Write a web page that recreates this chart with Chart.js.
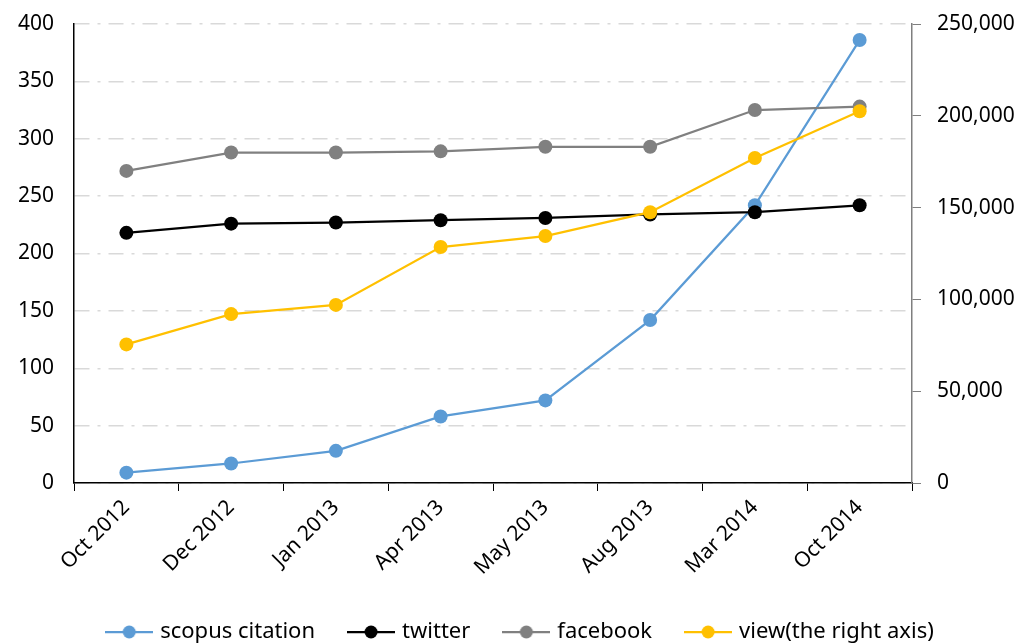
<!DOCTYPE html>
<html>
<head>
<meta charset="utf-8">
<script src="https://cdn.jsdelivr.net/npm/chart.js@4"></script>
<style>
  html, body { margin: 0; padding: 0; background: #fff; }
  #wrap { width: 1023px; height: 643px; }
</style>
</head>
<body>
<div id="wrap"><canvas id="chart"></canvas></div>
<script>
const months = ['Oct 2012', 'Dec 2012', 'Jan 2013', 'Apr 2013', 'May 2013', 'Aug 2013', 'Mar 2014', 'Oct 2014'];
const scopus = [9, 17, 28, 58, 72, 142, 242, 386];
const twitter = [218, 226, 227, 229, 231, 234, 236, 242];
const facebook = [272, 288, 288, 289, 293, 293, 325, 328];
const views = [75500, 92000, 97000, 128500, 134500, 147500, 177000, 202500];

const seriesNames = ['scopus citation', 'twitter', 'facebook', 'view(the right axis)'];
const seriesColors = ['#5B9BD5', '#000000', '#808080', '#FFC000'];

const FONT = "'Noto Sans', sans-serif";

// legend marker: short line with a dot in the middle
const legendMarker = (color) => {
  const c = document.createElement('canvas');
  c.width = 48;
  c.height = 14;
  const g = c.getContext('2d');
  g.strokeStyle = color;
  g.lineWidth = 2.25;
  g.beginPath();
  g.moveTo(0, 7);
  g.lineTo(48, 7);
  g.stroke();
  g.fillStyle = color;
  g.beginPath();
  g.arc(24, 7, 6.5, 0, Math.PI * 2);
  g.fill();
  return c;
};

const makeSet = (i, data, axis, order) => ({
  label: seriesNames[i],
  data: data,
  yAxisID: axis,
  borderColor: seriesColors[i],
  backgroundColor: seriesColors[i],
  pointBackgroundColor: seriesColors[i],
  pointBorderColor: seriesColors[i],
  borderWidth: 2.25,
  pointRadius: 7,
  pointBorderWidth: 0,
  tension: 0,
  order: order
});

// nudge the legend a little to the right, like the original
const legendShift = {
  id: 'legendShift',
  afterLayout: (chart) => {
    chart.legend.left += 10;
    chart.legend.right += 10;
  }
};

const ctx = document.getElementById('chart').getContext('2d');
new Chart(ctx, {
  type: 'line',
  data: {
    labels: months,
    datasets: [
      makeSet(0, scopus, 'y', 4),
      makeSet(1, twitter, 'y', 3),
      makeSet(2, facebook, 'y', 2),
      makeSet(3, views, 'y1', 1)
    ]
  },
  plugins: [legendShift],
  options: {
    responsive: true,
    maintainAspectRatio: false,
    animation: false,
    devicePixelRatio: 1,
    layout: { padding: { top: 24, left: 0, right: 0, bottom: -10 } },
    plugins: {
      tooltip: { enabled: false },
      legend: {
        position: 'bottom',
        labels: {
          font: { family: FONT, size: 22 },
          color: '#000',
          usePointStyle: true,
          pointStyleWidth: 40,
          padding: 36,
          generateLabels: (chart) => chart.data.datasets.map((ds, i) => ({
            text: ds.label,
            pointStyle: legendMarker(seriesColors[i]),
            fillStyle: seriesColors[i],
            strokeStyle: seriesColors[i],
            lineWidth: 0,
            fontColor: '#000',
            datasetIndex: i
          }))
        }
      }
    },
    scales: {
      x: {
        offset: true,
        grid: {
          offset: true,
          drawOnChartArea: false,
          drawTicks: true,
          tickLength: 8,
          color: '#000'
        },
        border: { color: '#000', width: 1.5 },
        ticks: {
          font: { family: FONT, size: 21 },
          color: '#000',
          maxRotation: 45,
          minRotation: 45,
          padding: 4
        },
        afterFit: (scale) => { scale.height = 102; }
      },
      y: {
        position: 'left',
        min: 0,
        max: 400,
        ticks: {
          stepSize: 50,
          font: { family: FONT, size: 21 },
          color: '#000',
          padding: 20
        },
        grid: {
          color: '#D9D9D9',
          lineWidth: 1.5,
          drawTicks: false
        },
        border: { color: '#000', width: 1.5, dash: [15, 8, 3, 8] },
        afterFit: (scale) => {
          scale.width = 74;
          scale.paddingTop = 0;
          scale.paddingBottom = 0;
        }
      },
      y1: {
        position: 'right',
        min: 0,
        max: 250000,
        ticks: {
          stepSize: 50000,
          font: { family: FONT, size: 21 },
          color: '#000',
          padding: 16,
          callback: (v) => v.toLocaleString('en-US')
        },
        grid: {
          drawOnChartArea: false,
          drawTicks: true,
          tickLength: 9,
          color: '#7F7F7F'
        },
        border: { color: '#7F7F7F', width: 1.5 },
        afterFit: (scale) => {
          scale.width = 111;
          scale.paddingTop = 0;
          scale.paddingBottom = 0;
        }
      }
    }
  }
});
</script>
</body>
</html>
